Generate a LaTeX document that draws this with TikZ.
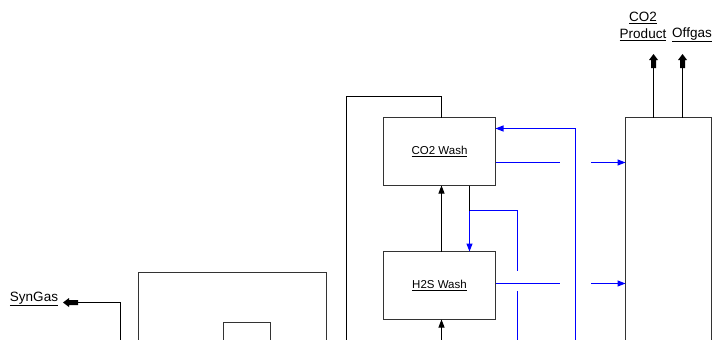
\documentclass[tikz,border=0pt]{standalone}
\usepackage{fontspec}
\setmainfont{Liberation Sans}
\usetikzlibrary{arrows.meta}
\definecolor{flowblue}{RGB}{0,0,255}
\begin{document}
\begin{tikzpicture}[x=1pt,y=-1pt,
  unitbox/.style={draw=black!80,line width=1pt,minimum width=#1,inner sep=0pt,outer sep=0pt},
  lbl/.style={inner sep=0pt,font=\fontsize{13.5}{15}\selectfont},
  boxlbl/.style={inner sep=0pt,font=\fontsize{11.5}{13}\selectfont},
  blk/.style={line width=1pt,black},
  blu/.style={line width=1.1pt,draw=flowblue},
  tip/.style={-{Triangle[length=8pt,width=6pt]}},
  pics/fatup/.style={code={\fill[black] (0,0) -- (2.5,0) -- (2.5,-8) -- (4.5,-8) -- (0,-14) -- (-4.5,-8) -- (-2.5,-8) -- (-2.5,0) -- cycle;}},
  pics/fatleft/.style={code={\fill[black] (0,0) -- (0,-2.5) -- (-9,-2.5) -- (-9,-4.5) -- (-15,0) -- (-9,4.5) -- (-9,2.5) -- (0,2.5) -- cycle;}}
]
\useasboundingbox (0,0) rectangle (713,340);
\clip (0,0) rectangle (713,340);
% boxes
\node[unitbox=112pt,minimum height=68pt] (co2) at (439.5,151.5) {};
\node[boxlbl] at (co2.center) {\underline{CO2 Wash}};
\node[unitbox=112pt,minimum height=68pt] (h2s) at (439.5,285.5) {};
\node[boxlbl] at (h2s.center) {\underline{H2S Wash}};
\node[unitbox=86pt,minimum height=283pt] (col) at (668.5,259) {};
\node[unitbox=188pt,minimum height=128pt] (big) at (232.5,336.5) {};
\node[unitbox=47pt,minimum height=78pt] (inner) at (247,361.5) {};
% labels
\node[lbl] (lco2) at (643,18) {\underline{CO2}};
\node[lbl] (lprod) at (643,35) {\underline{Product}};
\node[lbl] (loff) at (692,35) {\underline{Offgas}};
\node[lbl] (lsyn) at (34,299) {\underline{SynGas}};
% coordinates
\coordinate (b1) at (346.5,345);
\coordinate (b2) at (441.5,345);
\coordinate (b3) at (517.5,345);
\coordinate (b4) at (575.5,345);
\coordinate (b5) at (120.5,345);
\coordinate (top) at (441.5,96.5);
\coordinate (split) at (469.5,210.5);
\coordinate (g1) at (517.5,271);
\coordinate (g2) at (517.5,291);
\coordinate (h1) at (560,283.5);
\coordinate (h2) at (591,283.5);
\coordinate (c1) at (560,162.5);
\coordinate (c2) at (591,162.5);
\coordinate (r1) at (575.5,128.5);
\coordinate (p1) at (653.5,68);
\coordinate (o1) at (682.5,68);
\coordinate (s1) at (78,302.5);
% black connectors
\draw[blk] (b1) |- (top) -- (co2.north -| top);
\draw[blk,tip] (h2s.north -| top) -- (co2.south -| top);
\draw[blk,tip] (b2) -- (h2s.south -| b2);
\draw[blk] (co2.south -| split) -- (split);
\draw[blk] (col.north -| p1) -- (p1);
\pic at (p1) {fatup};
\draw[blk] (col.north -| o1) -- (o1);
\pic at (o1) {fatup};
\draw[blk] (b5) |- (s1);
\pic at (s1) {fatleft};
% blue connectors
\draw[blu,tip] (split) -- (h2s.north -| split);
\draw[blu] (split) -| (g1);
\draw[blu] (g2) -- (b3);
\draw[blu] (h2s.east |- h1) -- (h1);
\draw[blu,tip] (h2) -- (col.west |- h2);
\draw[blu] (co2.east |- c1) -- (c1);
\draw[blu,tip] (c2) -- (col.west |- c2);
\draw[blu,tip] (b4) -- (r1) -- (co2.east |- r1);
\end{tikzpicture}
\end{document}
